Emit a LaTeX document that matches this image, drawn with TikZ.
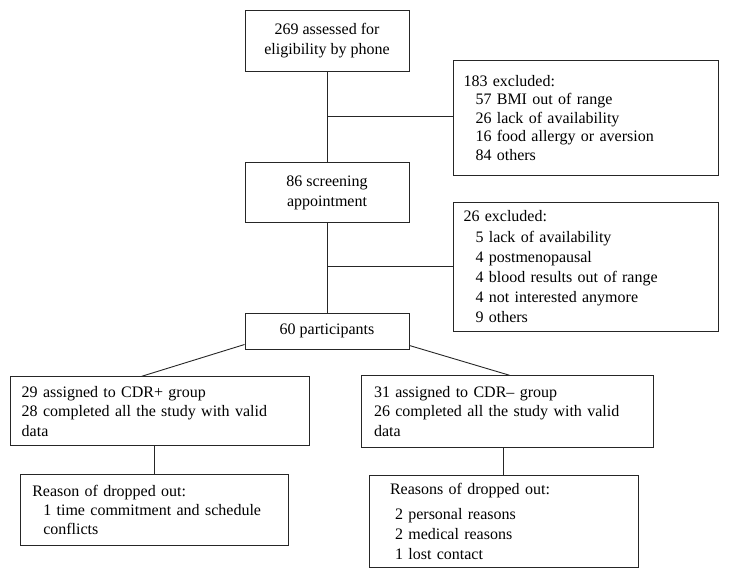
\documentclass[tikz,border=0pt]{standalone}
\usepackage{fontspec}
\setmainfont{Liberation Serif}
\begin{document}
\begin{tikzpicture}[x=1pt,y=-1pt,
  box/.style={draw=black!85, line width=0.9pt, rectangle, inner ysep=0pt, font=\fontsize{16}{19.5}\selectfont},
  ln/.style={draw=black!85, line width=0.9pt}]
\useasboundingbox (0,0) rectangle (729,579);

\node[box, minimum width=164pt, minimum height=60.3pt, align=center, font=\fontsize{16}{20}\selectfont] (b1) at (327,40.8) {269 assessed for\\eligibility by phone};

\node[box, inner xsep=10pt, text width=245.2pt, minimum height=114.3pt, align=left, font=\fontsize{16}{18.6}\selectfont] (b2) at (586.1,117.85)
 {183 excluded:\\
 \hspace*{12pt}57 BMI out of range\\
 \hspace*{12pt}26 lack of availability\\
 \hspace*{12pt}16 food allergy or aversion\\
 \hspace*{12pt}84 others};

\node[box, minimum width=164pt, minimum height=60.4pt, align=center, font=\fontsize{16}{20}\selectfont] (b3) at (327,192.5) {86 screening\\appointment};

\node[box, inner xsep=10pt, text width=245.2pt, minimum height=129.4pt, align=left, font=\fontsize{16}{20.2}\selectfont] (b4) at (586.1,267)
 {26 excluded:\\
 \hspace*{12pt}5 lack of availability\\
 \hspace*{12pt}4 postmenopausal\\
 \hspace*{12pt}4 blood results out of range\\
 \hspace*{12pt}4 not interested anymore\\
 \hspace*{12pt}9 others};

\node[box, minimum width=164pt, minimum height=35.7pt, align=center] (b5) at (327,331.2) {60 participants};

\node[box, inner xsep=11pt, text width=276.3pt, minimum height=69pt, align=left] (b6) at (159.85,411.2)
 {29 assigned to CDR+ group\\28 completed all the study with valid\\data};

\node[box, inner xsep=12.3pt, text width=267pt, minimum height=71.6pt, align=left] (b7) at (507.5,411.5)
 {31 assigned to CDR\textendash{} group\\26 completed all the study with valid\\data};

\node[box, inner xsep=12.3pt, text width=243.7pt, minimum height=71pt, align=left, font=\fontsize{16}{19}\selectfont] (b8) at (154.15,509.5)
 {Reason of dropped out:\\
 \hspace*{11pt}1 time commitment and schedule\\
 \hspace*{11pt}conflicts};

\node[box, inner xsep=20.7pt, text width=227.6pt, minimum height=92.3pt, align=left, font=\fontsize{16}{20}\selectfont] (b9) at (503.8,521.15)
 {Reasons of dropped out:\\[5pt]
 \hspace*{5pt}2 personal reasons\\
 \hspace*{5pt}2 medical reasons\\
 \hspace*{5pt}1 lost contact};

\draw[ln] (b1) -- (b3);
\draw[ln] (b3) -- (b5);
\coordinate (j1) at (327,116);
\coordinate (j2) at (327,266.7);
\draw[ln] (j1) -- (j1 -| b2.west);
\draw[ln] (j2) -- (j2 -| b4.west);
\draw[ln] ([yshift=5pt]b5.south west) -- ([xshift=-18pt]b6.north);
\draw[ln] ([yshift=4pt]b5.south east) -- ([xshift=2pt]b7.north);
\draw[ln] (b6.south -| b8.north) -- (b8.north);
\draw[ln] (b7.south -| b9.north) -- (b9.north);
\end{tikzpicture}
\end{document}
